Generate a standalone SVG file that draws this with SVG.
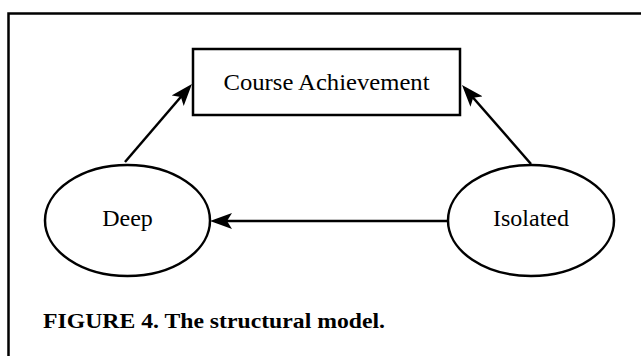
<svg xmlns="http://www.w3.org/2000/svg" width="641" height="356" viewBox="0 0 641 356">
<style>
.shape{fill:#fff;stroke:#000;stroke-width:2.5}
.edge{stroke:#000;stroke-width:2.5;fill:none}
.lbl{font-family:"Liberation Serif","Times New Roman",serif;font-size:24px;fill:#000;text-anchor:middle}
.cap{font-family:"Liberation Serif","Times New Roman",serif;font-size:22px;font-weight:bold;fill:#000}
</style>
<defs>
<marker id="arr" viewBox="0 0 22 16" refX="17" refY="8" markerWidth="22" markerHeight="16" markerUnits="userSpaceOnUse" orient="auto">
<path d="M0,0 L22,8 L0,16 L5,8 z" fill="#000"/>
</marker>
</defs>
<path id="frame" d="M8.5,356 L8.5,13.5 L641,13.5" fill="none" stroke="#000" stroke-width="2.5"/>
<g id="connectors">
<line class="edge" x1="125" y1="162" x2="188.7" y2="87.8" marker-end="url(#arr)"/>
<line class="edge" x1="531" y1="164" x2="465.3" y2="88.8" marker-end="url(#arr)"/>
<line class="edge" x1="448" y1="221" x2="215" y2="221" marker-end="url(#arr)"/>
</g>
<g id="course-achievement">
<rect class="shape" x="193" y="49" width="267" height="66"/>
<text class="lbl" x="326.5" y="90" textLength="206" lengthAdjust="spacingAndGlyphs">Course Achievement</text>
</g>
<g id="deep">
<ellipse class="shape" cx="127.5" cy="220.5" rx="82.5" ry="55.5"/>
<text class="lbl" x="127.5" y="226">Deep</text>
</g>
<g id="isolated">
<ellipse class="shape" cx="531" cy="220.5" rx="83" ry="55.5"/>
<text class="lbl" x="531" y="226">Isolated</text>
</g>
<text class="cap" x="43" y="328" textLength="342" lengthAdjust="spacingAndGlyphs">FIGURE 4. The structural model.</text>
</svg>
